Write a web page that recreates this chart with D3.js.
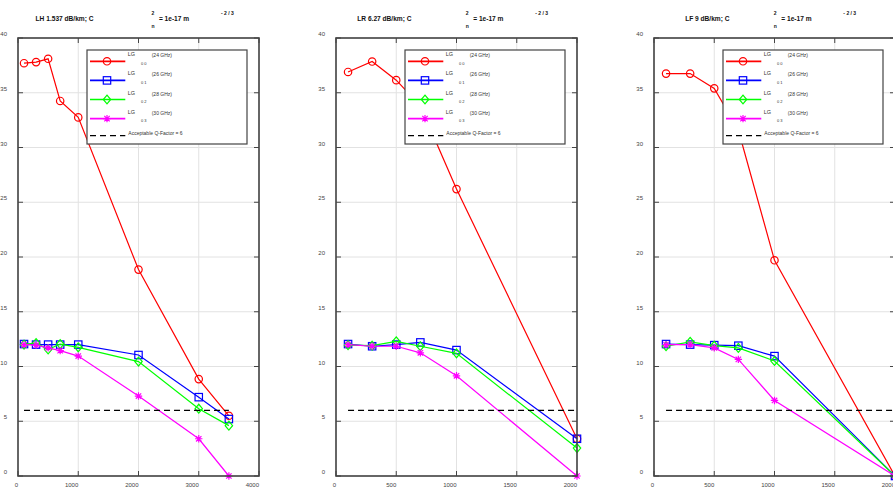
<!DOCTYPE html>
<meta charset="utf-8">
<script src="https://d3js.org/d3.v7.min.js"></script>
<style>
  body { margin: 0; background: #fff; }
  text { font-family: "Liberation Sans", Arial, Helvetica, sans-serif; }
</style>
<body>
<div id="chart"></div>
<script>
// distances (x) for each fibre type
var distLH = [100, 300, 500, 700, 1000, 2000, 3000, 3500];
var distLR = [100, 300, 500, 700, 1000, 2000];
var distLF = [100, 300, 500, 700, 1000, 2000];

// Q-factor values
var lhLG00 = [37.7, 37.8, 38.1, 34.25, 32.75, 18.85, 8.85, 5.5];
var lhLG01 = [12.05, 12.0, 12.0, 12.0, 12.0, 11.05, 7.2, 5.2];
var lhLG02 = [12.0, 12.15, 11.55, 12.05, 11.75, 10.45, 6.15, 4.6];
var lhLG03 = [12.0, 11.95, 11.7, 11.45, 10.95, 7.3, 3.4, 0];

var lrLG00 = [36.9, 37.85, 36.15, 33.8, 26.2, 3.4];
var lrLG01 = [12.05, 11.85, 12.0, 12.2, 11.5, 3.4];
var lrLG02 = [11.95, 11.9, 12.3, 11.85, 11.2, 2.55];
var lrLG03 = [12.0, 11.85, 11.85, 11.25, 9.15, 0];

var lfLG00 = [36.75, 36.75, 35.4, 31.6, 19.7, 0];
var lfLG01 = [12.05, 12.0, 11.95, 11.9, 10.95, 0];
var lfLG02 = [11.85, 12.25, 11.9, 11.7, 10.5, 0];
var lfLG03 = [12.0, 12.0, 11.7, 10.65, 6.9, 0];

var titles = ["LH 1.537 dB/km; C", "LR 6.27 dB/km; C", "LF 9 dB/km; C"];
var xMax = [4000, 2000, 2000];
var xTicks = [[0, 1000, 2000, 3000, 4000], [0, 500, 1000, 1500, 2000], [0, 500, 1000, 1500, 2000]];
var yTicks = [0, 5, 10, 15, 20, 25, 30, 35, 40];

var modeNames = ["0 0", "0 1", "0 2", "0 3"];
var freqLabels = ["(24 GHz)", "(26 GHz)", "(28 GHz)", "(30 GHz)"];
var colors = ["#ff0000", "#0000ff", "#00ff00", "#ff00ff"];
var markers = ["circle", "square", "diamond", "star"];
var qLimit = 6;

var panels = [
  {dist: distLH, series: [lhLG00, lhLG01, lhLG02, lhLG03]},
  {dist: distLR, series: [lrLG00, lrLG01, lrLG02, lrLG03]},
  {dist: distLF, series: [lfLG00, lfLG01, lfLG02, lfLG03]}
];

var W = 893, H = 488;
var lefts = [18, 336, 654], pw = 241, plotTop = 38, plotBottom = 476;

var svg = d3.select("#chart").append("svg")
  .attr("width", W).attr("height", H);

function drawMarker(g, type, x, y, color) {
  var s = 3.7;
  if (type == "circle") {
    g.append("circle").attr("cx", x).attr("cy", y).attr("r", s)
      .attr("fill", "none").attr("stroke", color).attr("stroke-width", 1.2);
  } else if (type == "square") {
    g.append("rect").attr("x", x - s).attr("y", y - s).attr("width", 2 * s).attr("height", 2 * s)
      .attr("fill", "none").attr("stroke", color).attr("stroke-width", 1.2);
  } else if (type == "diamond") {
    g.append("path").attr("d", "M" + x + "," + (y - 4.4) + "L" + (x + 3.7) + "," + y + "L" + x + "," + (y + 4.4) + "L" + (x - 3.7) + "," + y + "Z")
      .attr("fill", "none").attr("stroke", color).attr("stroke-width", 1.2);
  } else {
    var d = 2.7;
    g.append("path").attr("d",
      "M" + (x - s) + "," + y + "L" + (x + s) + "," + y +
      "M" + x + "," + (y - s) + "L" + x + "," + (y + s) +
      "M" + (x - d) + "," + (y - d) + "L" + (x + d) + "," + (y + d) +
      "M" + (x - d) + "," + (y + d) + "L" + (x + d) + "," + (y - d))
      .attr("fill", "none").attr("stroke", color).attr("stroke-width", 1.2);
  }
}

panels.forEach(function(p, i) {
  var L = lefts[i];
  var x = d3.scaleLinear().domain([0, xMax[i]]).range([L, L + pw]);
  var y = d3.scaleLinear().domain([0, 40]).range([plotBottom, plotTop]);
  var g = svg.append("g");

  // grid
  g.selectAll(".gx").data(xTicks[i]).enter().append("line")
    .attr("x1", d => x(d)).attr("x2", d => x(d)).attr("y1", plotTop).attr("y2", plotBottom)
    .attr("stroke", "#e2e2e2").attr("stroke-width", 1);
  g.selectAll(".gy").data(yTicks).enter().append("line")
    .attr("x1", L).attr("x2", L + pw).attr("y1", d => y(d)).attr("y2", d => y(d))
    .attr("stroke", "#e2e2e2").attr("stroke-width", 1);

  // tick labels
  g.selectAll(".tx").data(xTicks[i]).enter().append("text")
    .attr("x", d => x(d)).attr("y", 486.5).attr("text-anchor", "end")
    .style("font-size", "6px").attr("fill", "#444").text(d => d);
  g.selectAll(".ty").data(yTicks).enter().append("text")
    .attr("x", L - 11).attr("y", d => y(d) - 2).attr("text-anchor", "end")
    .style("font-size", "6px").attr("fill", "#444").text(d => d);

  // series
  p.series.forEach(function(vals, k) {
    var pts = p.dist.map(function(d, j) { return [d, vals[j]]; });
    g.append("path").datum(pts)
      .attr("fill", "none").attr("stroke", colors[k]).attr("stroke-width", 1.2)
      .attr("d", d3.line().x(d => x(d[0])).y(d => y(d[1])));
    pts.forEach(function(d) { drawMarker(g, markers[k], x(d[0]), y(d[1]), colors[k]); });
  });

  // acceptable Q-factor line
  g.append("line")
    .attr("x1", x(p.dist[0])).attr("x2", x(p.dist[p.dist.length - 1]))
    .attr("y1", y(qLimit)).attr("y2", y(qLimit))
    .attr("stroke", "#000").attr("stroke-width", 1.2).attr("stroke-dasharray", "6,4");

  // frame + inward ticks
  g.append("rect").attr("x", L).attr("y", plotTop).attr("width", pw).attr("height", plotBottom - plotTop)
    .attr("fill", "none").attr("stroke", "#444").attr("stroke-width", 1.6);
  xTicks[i].forEach(function(t) {
    g.append("line").attr("x1", x(t)).attr("x2", x(t)).attr("y1", plotBottom).attr("y2", plotBottom - 5).attr("stroke", "#444");
    g.append("line").attr("x1", x(t)).attr("x2", x(t)).attr("y1", plotTop).attr("y2", plotTop + 5).attr("stroke", "#444");
  });
  yTicks.forEach(function(t) {
    g.append("line").attr("x1", L).attr("x2", L + 5).attr("y1", y(t)).attr("y2", y(t)).attr("stroke", "#444");
    g.append("line").attr("x1", L + pw).attr("x2", L + pw - 5).attr("y1", y(t)).attr("y2", y(t)).attr("stroke", "#444");
  });

  // legend
  var lg = g.append("g");
  lg.append("rect").attr("x", L + 69).attr("y", 50).attr("width", 160).attr("height", 94)
    .attr("fill", "#fff").attr("stroke", "#444").attr("stroke-width", 1.2);
  colors.forEach(function(c, k) {
    var ry = 61.3 + k * 19.1;
    lg.append("line").attr("x1", L + 72).attr("x2", L + 107.3).attr("y1", ry).attr("y2", ry)
      .attr("stroke", c).attr("stroke-width", 1.7);
    drawMarker(lg, markers[k], L + 89, ry, c);
    lg.append("text").attr("x", L + 109.7).attr("y", ry - 5).style("font-size", "5.5px").attr("fill", "#333").text("LG");
    lg.append("text").attr("x", L + 123).attr("y", ry + 3.2).style("font-size", "4px").attr("fill", "#333").text(modeNames[k]);
    lg.append("text").attr("x", L + 133.7).attr("y", ry - 4).style("font-size", "5px").attr("fill", "#333").text(freqLabels[k]);
  });
  lg.append("line").attr("x1", L + 72).attr("x2", L + 107.3).attr("y1", 135.7).attr("y2", 135.7)
    .attr("stroke", "#000").attr("stroke-width", 1.3).attr("stroke-dasharray", "6,4");
  lg.append("text").attr("x", L + 110.3).attr("y", 134.8).style("font-size", "5px").attr("fill", "#333")
    .text("Acceptable Q-Factor = " + qLimit);

  // title
  var cx = L + pw / 2;
  var t = g.append("text").attr("x", cx - 45).attr("y", 21.3).attr("text-anchor", "end")
    .style("font-size", "6.6px").style("font-weight", "bold").attr("fill", "#111").text(titles[i]);
  var tw = t.node().getComputedTextLength();
  var sx = cx - 45 + tw;
  g.append("text").attr("x", sx).attr("y", 15.3).style("font-size", "5px").style("font-weight", "bold").attr("fill", "#111").text("2");
  g.append("text").attr("x", sx).attr("y", 28).style("font-size", "5px").style("font-weight", "bold").attr("fill", "#111").text("n");
  g.append("text").attr("x", sx + 7.5).attr("y", 21.3).style("font-size", "6.6px").style("font-weight", "bold").attr("fill", "#111").text("= 1e-17 m");
  g.append("text").attr("x", sx + 69.5).attr("y", 15.3).style("font-size", "5px").style("font-weight", "bold").attr("fill", "#111").text("- 2  / 3");
});
</script>
</body>
